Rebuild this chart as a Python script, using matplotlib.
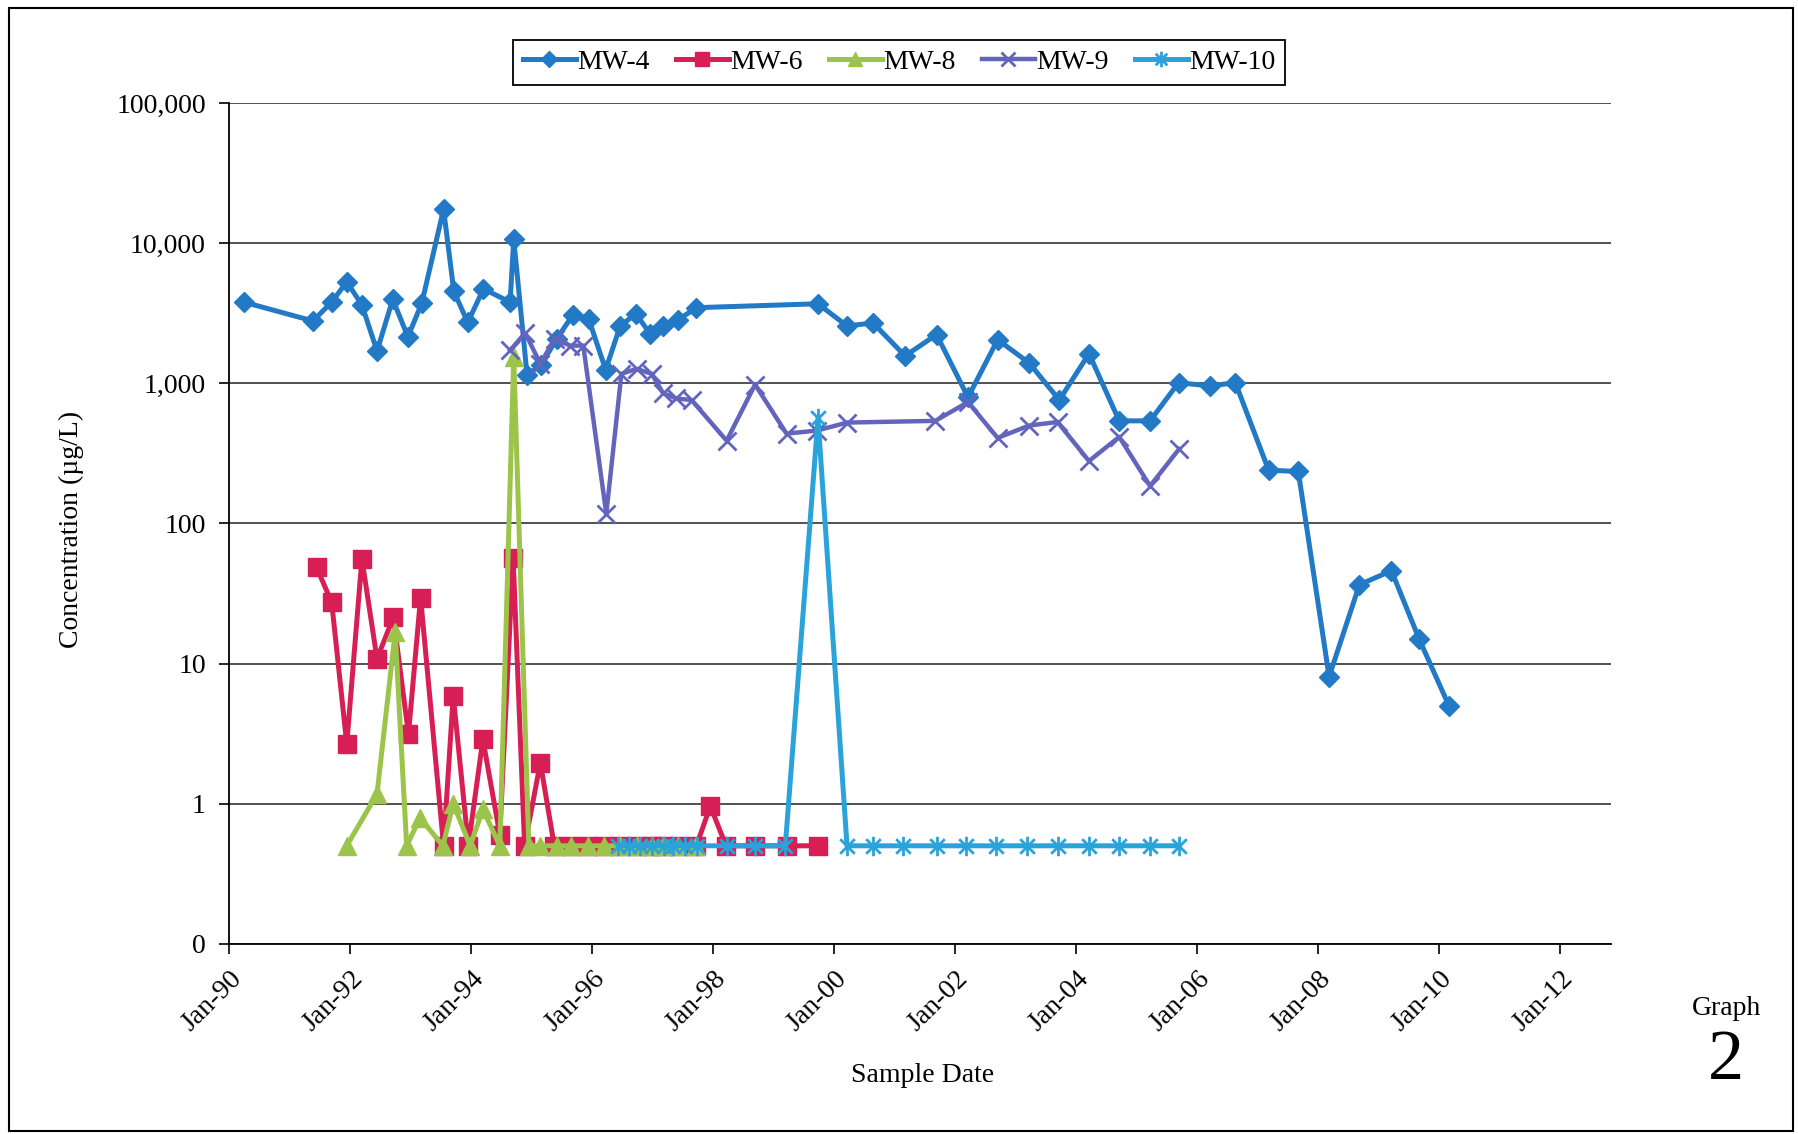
import matplotlib
matplotlib.use("Agg")
import matplotlib.pyplot as plt
from matplotlib.path import Path
from matplotlib.patches import Rectangle

# sample dates as decimal years, concentrations in ug/L (0.5 = non-detect plotted)
mw4_dates = [1990.24, 1991.38, 1991.69, 1991.94, 1992.19, 1992.44, 1992.70, 1992.95, 1993.18, 1993.54,
             1993.71, 1993.94, 1994.20, 1994.64, 1994.70, 1994.92, 1995.15, 1995.41, 1995.68, 1995.94,
             1996.22, 1996.46, 1996.72, 1996.96, 1997.17, 1997.41, 1997.72, 1999.73, 2000.21, 2000.64,
             2001.17, 2001.69, 2002.21, 2002.70, 2003.22, 2003.72, 2004.21, 2004.71, 2005.22, 2005.69,
             2006.21, 2006.63, 2007.18, 2007.67, 2008.18, 2008.68, 2009.21, 2009.67, 2010.16]
mw4_vals = [3800, 2790, 3800, 5300, 3630, 1700, 3980, 2150, 3730, 17500,
            4540, 2720, 4730, 3800, 10700, 1150, 1350, 2080, 3090, 2880,
            1250, 2570, 3140, 2240, 2570, 2830, 3470, 3700, 2570, 2700,
            1570, 2230, 795, 2050, 1400, 760, 1630, 540, 540, 1010,
            960, 1010, 240, 235, 8.05, 36.5, 46, 14.9, 5.0]

mw6_dates = [1991.44, 1991.69, 1991.94, 1992.19, 1992.44, 1992.71, 1992.96, 1993.16, 1993.54, 1993.70,
             1993.95, 1994.19, 1994.47, 1994.69, 1994.88, 1995.14, 1995.37, 1995.65, 1995.93, 1996.20,
             1996.46, 1996.73, 1996.98, 1997.17, 1997.41, 1997.72, 1997.95, 1998.21, 1998.69, 1999.21,
             1999.73]
mw6_vals = [48.6, 27.4, 2.66, 55.8, 10.8, 21.4, 3.13, 29.6, 0.5, 5.9,
            0.5, 2.88, 0.6, 57, 0.5, 1.96, 0.5, 0.5, 0.5, 0.5,
            0.5, 0.5, 0.5, 0.5, 0.5, 0.5, 0.96, 0.5, 0.5, 0.5,
            0.5]

mw8_dates = [1991.94, 1992.44, 1992.74, 1992.93, 1993.15, 1993.53, 1993.70, 1993.98, 1994.19, 1994.47,
             1994.70, 1994.95, 1995.13, 1995.41, 1995.65, 1995.93, 1996.20, 1996.46, 1996.73, 1996.98,
             1997.17, 1997.41, 1997.72]
mw8_vals = [0.5, 1.17, 16.7, 0.5, 0.79, 0.5, 1.0, 0.5, 0.91, 0.5,
            1550, 0.5, 0.5, 0.5, 0.5, 0.5, 0.5, 0.5, 0.5, 0.5,
            0.5, 0.5, 0.5]

mw9_dates = [1994.64, 1994.89, 1995.14, 1995.38, 1995.63, 1995.85, 1996.23, 1996.48, 1996.73, 1996.98,
             1997.17, 1997.39, 1997.64, 1998.22, 1998.69, 1999.21, 1999.71, 2000.21, 2001.67, 2002.21,
             2002.70, 2003.22, 2003.69, 2004.21, 2004.71, 2005.22, 2005.70]
mw9_vals = [1720, 2290, 1380, 2090, 1860, 1860, 117, 1170, 1270, 1170,
            850, 780, 760, 390, 980, 438, 460, 525, 540, 735,
            408, 500, 530, 279, 415, 185, 340]

mw10_dates = [1996.43, 1996.60, 1996.79, 1996.98, 1997.18, 1997.34, 1997.53, 1997.73, 1998.22, 1998.69,
              1999.19, 1999.73, 2000.21, 2000.64, 2001.14, 2001.69, 2002.18, 2002.68, 2003.19, 2003.69,
              2004.21, 2004.71, 2005.22, 2005.70]
mw10_vals = [0.5, 0.5, 0.5, 0.5, 0.5, 0.5, 0.5, 0.5, 0.5, 0.5,
             0.5, 565, 0.5, 0.5, 0.5, 0.5, 0.5, 0.5, 0.5, 0.5,
             0.5, 0.5, 0.5, 0.5]

xtick_years = [1990, 1992, 1994, 1996, 1998, 2000, 2002, 2004, 2006, 2008, 2010, 2012]
xtick_labels = ["Jan-90", "Jan-92", "Jan-94", "Jan-96", "Jan-98", "Jan-00",
                "Jan-02", "Jan-04", "Jan-06", "Jan-08", "Jan-10", "Jan-12"]
ytick_vals = [0.1, 1, 10, 100, 1000, 10000, 100000]
ytick_labels = ["0", "1", "10", "100", "1,000", "10,000", "100,000"]

plt.rcParams['font.family'] = ['Liberation Serif', 'DejaVu Serif']

# excel style asterisk marker
asterisk = Path([(0, -1), (0, 1), (-0.75, -0.75), (0.75, 0.75), (-0.75, 0.75), (0.75, -0.75)],
                [Path.MOVETO, Path.LINETO, Path.MOVETO, Path.LINETO, Path.MOVETO, Path.LINETO])

fig = plt.figure(figsize=(17.98, 11.34), dpi=100)
ax = fig.add_axes([0.1276, 0.1678, 0.896 - 0.1276, 0.909 - 0.1678])

ax.plot(mw4_dates, mw4_vals, color='#2279C6', lw=3.6, marker='D', ms=10, label='MW-4')
ax.plot(mw6_dates, mw6_vals, color='#D81F55', lw=3.6, marker='s', ms=13, label='MW-6')
ax.plot(mw8_dates, mw8_vals, color='#9DC44A', lw=3.6, marker='^', ms=13, label='MW-8')
ax.plot(mw9_dates, mw9_vals, color='#6365BC', lw=3.2, marker='x', ms=13, mew=2, label='MW-9')
ax.plot(mw10_dates, mw10_vals, color='#2AA3DA', lw=3.6, marker=asterisk, ms=14, mew=2,
        fillstyle='none', label='MW-10')

ax.set_yscale('log')
ax.set_ylim(0.1, 100000)
ax.set_xlim(1990, 2012.84)
ax.set_yticks(ytick_vals)
ax.set_yticklabels(ytick_labels)
ax.minorticks_off()
ax.set_xticks(xtick_years)
ax.set_xticklabels(xtick_labels, rotation=45, ha='right', rotation_mode='anchor')
ax.tick_params(axis='both', labelsize=20, direction='out', length=7, width=1.2, colors='black')
ax.tick_params(axis='x', pad=9)
ax.tick_params(axis='y', pad=10)
ax.grid(axis='y', color='#333333', lw=1.2)
ax.set_axisbelow(True)
ax.spines['top'].set_visible(False)
ax.spines['right'].set_visible(False)
ax.spines['left'].set_linewidth(1.3)
ax.spines['bottom'].set_linewidth(1.3)

fig.text(0.0395, 0.533, 'Concentration (µg/L)', rotation=90, ha='center', va='center', fontsize=20)
fig.text(0.513, 0.052, 'Sample Date', ha='center', va='center', fontsize=20)
fig.text(0.96, 0.111, 'Graph', ha='center', va='center', fontsize=20)
fig.text(0.96, 0.064, '2', ha='center', va='center', fontsize=52)

leg = fig.legend(loc='center', bbox_to_anchor=(0.5, 0.945), ncol=5, fontsize=20,
                 fancybox=False, edgecolor='black', framealpha=1, handlelength=1.9,
                 handletextpad=0.05, columnspacing=0.95, borderpad=0.35, markerscale=0.8)
leg.get_frame().set_linewidth(1.3)

# page border
fig.patches.append(Rectangle((0.005, 0.003), 0.992, 0.99, transform=fig.transFigure,
                             fill=False, edgecolor='black', lw=1.5))

fig.savefig('out.png', dpi=100)
